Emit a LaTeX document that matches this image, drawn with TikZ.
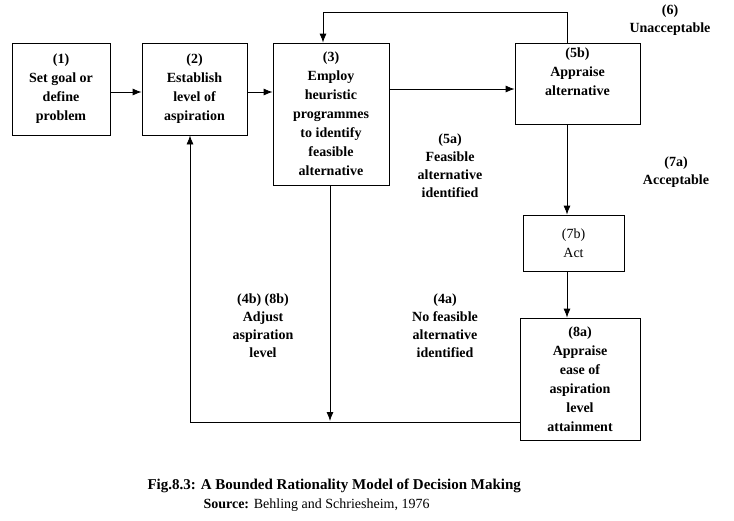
\documentclass[tikz,border=0pt]{standalone}
\usepackage{fontspec}
\setmainfont{Liberation Serif}
\usetikzlibrary{positioning,arrows.meta}
\tikzset{
 box/.style={draw, thick, align=center, font=\fontsize{14}{19}\selectfont\bfseries, inner sep=2pt},
 lbl/.style={align=center, font=\fontsize{14}{18}\selectfont\bfseries},
 flow/.style={thick, -{Latex[length=9pt,width=7pt]}}
}
\begin{document}
\begin{tikzpicture}[x=1pt,y=-1pt,font=\fontsize{14}{18}\selectfont]
\useasboundingbox (0,0) rectangle (734,520);

\node[box, minimum width=98, minimum height=92] (goal) at (61,89) {(1)\\Set goal or\\define\\problem};
\node[box, minimum width=105, minimum height=92] (asp) at (194.5,89) {(2)\\Establish\\level of\\aspiration};
\node[box, minimum width=116, minimum height=142] (heur) at (331,114) {(3)\\Employ\\heuristic\\programmes\\to identify\\feasible\\alternative};
\node[box, minimum width=125, minimum height=81] (appr) at (577.5,83.5) {(5b)\\Appraise\\alternative\\[4pt]};
\node[box, font=\fontsize{14}{19}\selectfont, minimum width=101, minimum height=56] (act) at (573.5,243) {(7b)\\Act};
\node[box, minimum width=120, minimum height=122] (ease) at (580,379) {(8a)\\Appraise\\ease of\\aspiration\\level\\attainment};

% labels
\node[lbl] at (670,20) {(6)\\Unacceptable};
\node[lbl] at (676,172) {(7a)\\Acceptable};
\node[lbl] at (450,166) {(5a)\\Feasible\\alternative\\identified};
\node[lbl] at (445,326) {(4a)\\No feasible\\alternative\\identified};
\node[lbl] at (263,326) {(4b) (8b)\\Adjust\\aspiration\\level};

% connectors
\draw[flow] (goal.east |- 0,92) -- (asp.west |- 0,92);
\draw[flow] (asp.east |- 0,92) -- (heur.west |- 0,92);
\draw[flow] (heur.east |- 0,89) -- (appr.west |- 0,89);
\draw[flow] (appr.north -| 567,0) -- (567,12) -| (323,0 |- heur.north);
\draw[flow] (appr.south -| 567,0) -- (act.north -| 567,0);
\draw[flow] (act.south -| 567,0) -- (ease.north -| 567,0);
\draw[flow] (ease.west |- 0,422) -| (190,0 |- asp.south);
\draw[flow] (heur.south -| 330,0) -- (330,421);

% caption
\node[font=\fontsize{15}{17}\selectfont\bfseries, anchor=west] at (144,486) {Fig.8.3: A Bounded Rationality Model of Decision Making};
\node[anchor=west, font=\fontsize{14}{16}\selectfont] at (200,505) {\textbf{Source:} Behling and Schriesheim, 1976};
\end{tikzpicture}
\end{document}
